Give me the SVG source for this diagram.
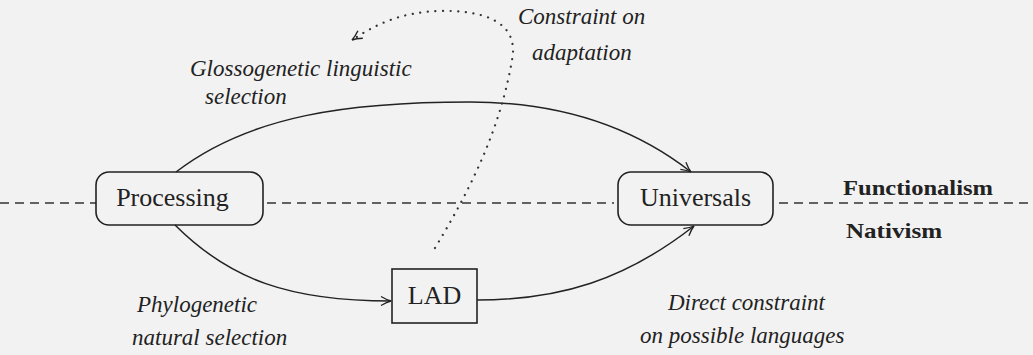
<svg xmlns="http://www.w3.org/2000/svg" width="1033" height="355" viewBox="0 0 1033 355">
  <defs>
    <marker id="arr" viewBox="-12 -6 14 12" refX="0" refY="0" markerWidth="14" markerHeight="12" markerUnits="userSpaceOnUse" orient="auto" overflow="visible">
      <path d="M -10 -4.5 Q -4 -1 0 0 Q -4 1 -10 4.5" fill="none" stroke="#222" stroke-width="1.3"/>
    </marker>
    <marker id="arrd" viewBox="-12 -6 14 12" refX="0" refY="0" markerWidth="14" markerHeight="12" markerUnits="userSpaceOnUse" orient="auto" overflow="visible">
      <path d="M -10 -4.5 Q -4 -1 0 0 Q -4 1 -10 4.5" fill="none" stroke="#222" stroke-width="1.4"/>
    </marker>
  </defs>
  <style>
    .node { fill: none; stroke: #222; stroke-width: 1.6; }
    .ntext { font-size: 26px; fill: #222; text-anchor: middle; }
    .lab { font-size: 23px; font-style: italic; fill: #222; }
    .bold { font-size: 22px; font-weight: bold; fill: #222; }
    .edge { fill: none; stroke: #222; stroke-width: 1.5; }
    .dash { fill: none; stroke: #333; stroke-width: 1.5; stroke-dasharray: 9 6; }
    .dot { fill: none; stroke: #333; stroke-width: 2.2; stroke-dasharray: 0.1 7.5; stroke-linecap: round; }
  </style>
  <rect width="1033" height="355" fill="#f2f2f2"/>

  <g id="divider">
    <line class="dash" x1="0" y1="203" x2="96" y2="203"/>
    <line class="dash" x1="267" y1="203" x2="614" y2="203"/>
    <line class="dash" x1="779" y1="203" x2="1033" y2="203"/>
    <text class="bold" font-family="Liberation Serif, serif" x="843" y="195" textLength="150" lengthAdjust="spacingAndGlyphs">Functionalism</text>
    <text class="bold" font-family="Liberation Serif, serif" x="846" y="238" textLength="96" lengthAdjust="spacingAndGlyphs">Nativism</text>
  </g>

  <g id="connectors">
    <path class="edge" d="M176,172 C250,115 350,102 470,102 C580,102 650,140 691,172" marker-end="url(#arr)"/>
    <path class="edge" d="M175,225 C230,280 290,301 391,301" marker-end="url(#arr)"/>
    <path class="edge" d="M477,300 C560,300 625,280 694,226" marker-end="url(#arr)"/>
    <path class="dot" d="M435,248 C470,190 500,130 512,60 C520,20 480,10 440,11 C400,12 375,25 352,40" marker-end="url(#arrd)"/>
    <text class="lab" font-family="Liberation Serif, serif" x="190" y="76">Glossogenetic linguistic</text>
    <text class="lab" font-family="Liberation Serif, serif" x="205" y="104">selection</text>
    <text class="lab" font-family="Liberation Serif, serif" x="518" y="24">Constraint on</text>
    <text class="lab" font-family="Liberation Serif, serif" x="532" y="60">adaptation</text>
    <text class="lab" font-family="Liberation Serif, serif" x="137" y="312">Phylogenetic</text>
    <text class="lab" font-family="Liberation Serif, serif" x="132" y="345">natural selection</text>
    <text class="lab" font-family="Liberation Serif, serif" x="668" y="310">Direct constraint</text>
    <text class="lab" font-family="Liberation Serif, serif" x="640" y="343">on possible languages</text>
  </g>

  <g id="processing">
    <rect class="node" x="96" y="172" width="167" height="53" rx="13"/>
    <text class="ntext" font-family="Liberation Serif, serif" x="172.5" y="206">Processing</text>
  </g>
  <g id="universals">
    <rect class="node" x="618" y="172" width="155" height="53" rx="13"/>
    <text class="ntext" font-family="Liberation Serif, serif" x="695.5" y="206">Universals</text>
  </g>
  <g id="lad">
    <rect class="node" x="392" y="269" width="85" height="54"/>
    <text class="ntext" font-family="Liberation Serif, serif" x="434.5" y="304">LAD</text>
  </g>
</svg>
